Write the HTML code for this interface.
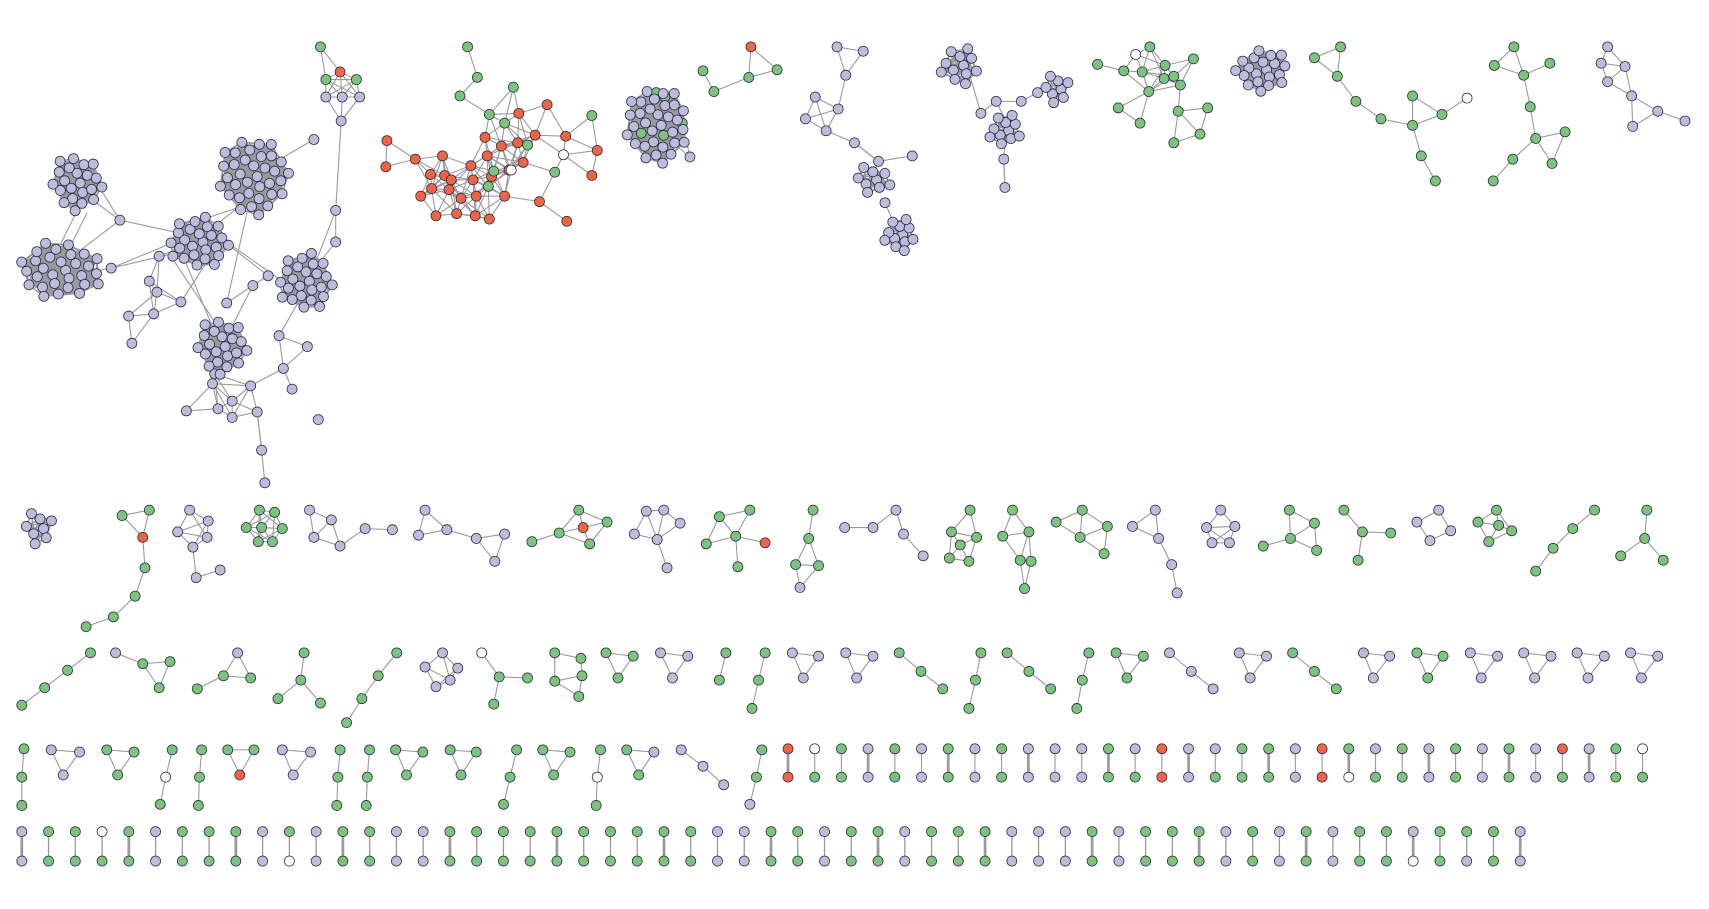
<!DOCTYPE html>
<html><head><meta charset="utf-8"><title>Network components</title>
<style>html,body{margin:0;padding:0;background:#fff}svg{display:block}</style></head>
<body>
<svg id="net" width="1709" height="909" viewBox="0 0 1568 834" preserveAspectRatio="none" xmlns="http://www.w3.org/2000/svg">
<g id="edges"></g>
<g id="nodes"></g>
</svg>
<script>
const components = [
 {s:"G 294 43,R 312 66,G 299 73,G 327 73,L 299 89,L 314 89,L 330 89,L 313 111",t:40},
 {s:"L 110 202,L 102 246,L 146 235,L 137 258,L 144 268,L 166 277,L 208 278,L 232 262,L 246 253,L 118 290,L 141 288,L 121 315,L 288 128,L 308 193,L 308 222,L 256 308,L 282 318,L 268 357,L 292 385,L 240 413,L 243 443,L 195 352,L 213 368,L 236 378,L 213 383,L 200 375,L 171 377,L 230 354,L 260 338,L 197 343",t:36},
 {s:"G 429 43,G 438 71,G 422 88,G 471 80,G 449 105,G 463 113,R 476 104,R 502 96,R 491 124,G 484 133,G 543 106,R 519 125,W 517 142,R 548 138,R 543 161,G 509 158,R 355 129,R 354 153,R 381 146,R 406 143,R 445 126,R 460 134,R 475 131,R 447 143,R 451 162,R 467 156,R 480 149,R 432 152,R 408 161,R 395 160,R 386 180,R 396 173,R 412 174,R 423 182,R 437 180,R 434 165,R 414 165,G 453 157,W 469 156,R 400 198,R 419 196,R 436 198,R 449 201,R 463 180,R 495 185,R 520 203,G 448 171",t:34},
 {s:"G 610 89,G 626 113,G 645 65,G 655 84,G 687 71,R 689 43,G 713 64,G 602 85,L 633 144",t:36},
 {s:"L 768 43,L 792 47,L 776 69,L 748 89,L 769 100,L 739 109,L 758 120,L 784 131,L 806 148,L 837 143,L 812 186",t:34},
 {s:"L 914 93,L 937 93,L 952 85,L 921 146,L 922 172,L 900 104",t:30},
 {s:"G 1007 59,W 1042 50,G 1055 43,G 1031 65,G 1048 66,G 1069 60,G 1077 70,G 1095 54,G 1083 78,G 1054 84,G 1026 99,G 1046 113,G 1081 102,G 1108 99,G 1077 131,G 1101 123,G 1068 72",t:32},
 {s:"G 1206 53,G 1230 43,G 1227 70,G 1244 93,G 1267 109,G 1296 88,G 1296 115,G 1323 105,W 1346 90,G 1304 143,G 1317 166",t:32},
 {s:"G 1371 60,G 1389 43,G 1398 69,G 1422 58,G 1404 98,G 1409 127,G 1436 121,G 1424 150,G 1388 146,G 1370 166",t:32},
 {s:"L 1475 43,L 1491 61,L 1469 58,L 1475 75,L 1497 88,L 1521 102,L 1546 111,L 1498 116",t:30},
 {s:"G 112 473,G 137 468,R 131 493,G 133 521,G 124 547,G 104 566,G 79 575",t:30},
 {s:"L 174 468,L 191 478,L 163 488,L 177 502,L 190 493,L 180 530,L 202 523",t:30},
 {s:"G 238 468,G 252 470,G 259 485,G 250 497,G 237 497,G 226 484,G 240 484",t:30},
 {s:"L 284 468,L 304 477,L 288 493,L 312 501,L 335 485,L 360 486",t:30},
 {s:"L 390 468,L 410 486,L 384 491,L 437 494,L 463 490,L 454 515",t:30},
 {s:"G 488 497,G 513 489,G 531 468,G 557 479,G 541 499,R 535 484",t:30},
 {s:"L 593 469,L 609 468,L 624 480,L 603 495,L 582 490,L 612 521",t:30},
 {s:"G 660 474,G 688 468,G 675 492,G 648 499,R 702 498,G 677 520",t:30},
 {s:"G 746 468,G 742 494,G 730 518,G 751 519,L 734 539",t:28},
 {s:"L 775 484,L 801 484,L 822 468,L 829 490,L 847 510",t:28},
 {s:"G 890 468,G 873 488,G 896 493,G 871 512,G 889 515,G 881 500",t:28},
 {s:"G 929 468,G 944 488,G 920 492,G 946 515,G 936 514,G 940 540",t:28},
 {s:"G 969 479,G 993 468,G 1016 483,G 991 493,G 1013 508",t:28},
 {s:"L 1039 483,L 1060 468,L 1063 494,L 1075 518,L 1080 544",t:28},
 {s:"L 1107 484,L 1120 468,L 1133 483,L 1128 498,L 1112 498",t:28},
 {s:"G 1159 501,G 1183 468,G 1206 480,G 1184 494,G 1208 505",t:28},
 {s:"G 1233 468,G 1250 488,G 1276 489,G 1246 514",t:28},
 {s:"L 1300 479,L 1320 468,L 1331 487,L 1312 496",t:28},
 {s:"G 1356 479,G 1373 468,G 1387 487,G 1366 497,G 1375 482",t:28},
 {s:"G 1409 524,G 1425 503,G 1443 485,G 1463 468",t:28},
 {s:"G 1511 468,G 1509 494,G 1487 510,G 1526 514",t:30},
 {s:"G 20 647,G 41 631,G 62 615,G 83 599",t:28},
 {s:"L 106 599,G 131 609,G 156 607,G 146 631",t:30},
 {s:"G 181 632,G 205 620,G 230 622,L 218 599",t:30},
 {s:"G 279 599,G 276 624,G 255 641,G 294 645",t:30},
 {s:"G 318 663,G 332 641,G 347 620,G 364 599",t:28},
 {s:"L 406 599,L 390 612,L 420 613,L 400 630,L 413 624",t:28},
 {s:"W 442 599,G 458 621,G 484 622,G 453 646",t:28},
 {s:"G 509 599,G 533 604,G 509 625,G 531 639,G 534 620",t:28},
 {s:"G 556 599,G 581 602,G 567 622",t:30},{s:"L 606 599,L 631 602,L 617 622",t:30},
 {s:"G 666 599,G 660 624",t:28},{s:"G 702 599,G 696 624,G 690 650",t:28},
 {s:"L 727 599,L 751 602,L 737 622",t:30},{s:"L 776 599,L 801 602,L 786 622",t:30},
 {s:"G 825 599,G 845 616,G 865 632",t:28},{s:"G 900 599,G 895 624,G 889 650",t:28},
 {s:"G 924 599,G 944 616,G 964 632",t:28},{s:"G 999 599,G 993 624,G 988 650",t:28},
 {s:"G 1024 599,G 1049 602,G 1034 622",t:30},{s:"L 1073 599,L 1093 616,L 1113 632",t:28},
 {s:"L 1137 599,L 1162 602,L 1147 622",t:30},{s:"G 1186 599,G 1206 616,G 1226 632",t:28},
 {s:"L 1251 599,L 1275 602,L 1260 622",t:30},{s:"G 1300 599,G 1324 602,G 1310 622",t:30},
 {s:"L 1349 599,L 1374 602,L 1359 622",t:30},{s:"L 1398 599,L 1423 602,L 1408 622",t:30},
 {s:"L 1447 599,L 1472 602,L 1457 622",t:30},{s:"L 1496 599,L 1521 602,L 1506 622",t:30},
 {s:"G 22 687,G 20 713,G 20 739",t:28},{s:"L 47 688,L 73 690,L 58 711",t:30},
 {s:"G 98 688,G 123 690,G 108 711",t:30},{s:"G 158 688,W 152 713,G 147 738",t:28},
 {s:"G 185 688,G 183 713,G 182 739",t:28},{s:"G 209 688,G 233 688,R 220 711",t:30},
 {s:"L 259 688,L 285 690,L 269 711",t:30},{s:"G 312 688,G 310 713,G 309 739",t:28},
 {s:"G 339 688,G 337 713,G 336 739",t:28},{s:"G 363 688,G 388 690,G 373 711",t:30},
 {s:"G 413 688,G 437 690,G 423 711",t:30},{s:"G 474 688,G 468 713,G 462 738",t:28},
 {s:"G 498 688,G 523 690,G 508 711",t:30},{s:"G 551 688,W 548 713,G 547 739",t:28},
 {s:"G 575 688,L 600 690,G 586 711",t:30},{s:"L 625 688,L 645 703,L 664 720",t:28},
 {s:"G 699 688,G 694 713,L 688 738",t:28}
];
const clusterColors = ["L","L","L","L","L","L","L","L","L","L","L","L","L","L"];
const clusterCenters = [[70,168],[55,248],[232,162],[182,222],[280,258],[203,318],[603,115],[800,165],[825,215],[880,60],[970,82],[922,120],[1158,64],[36,485]];
const clusterRadii = [[24,27],[40,27],[33,37],[30,24],[27,27],[24,27],[30,36],[18,14],[16,16],[20,18],[14,14],[16,16],[26,20],[16,16]];
const clusterCounts = [22,30,35,25,25,22,34,9,12,12,8,11,20,8];
const bridges = [[[110,202],[80,180]],[[110,202],[60,240]],[[110,202],[90,170]],[[102,246],[80,250]],[[102,246],[160,222]],[[102,246],[170,230]],[[110,202],[170,215]],[[146,235],[180,222]],[[288,128],[250,150]],[[308,193],[313,111]],[[308,193],[290,240]],[[308,222],[290,245]],[[246,253],[210,225]],[[256,308],[275,275]],[[232,262],[210,305]],[[166,277],[190,240]],[[208,278],[230,180]],[[200,205],[225,185]],[[190,200],[220,190]],[[205,220],[255,255]],[[160,240],[200,300]],[[170,240],[195,300]],[[195,352],[200,330]],[[213,368],[230,354]],[[240,413],[236,378]],[[70,195],[55,225]],[[80,195],[65,225]],[[633,144],[610,125]],[[602,85],[610,100]],[[784,131],[806,148]],[[806,148],[800,165]],[[812,186],[820,205]],[[900,104],[890,70]],[[914,93],[925,115]],[[952,85],[965,80]],[[922,172],[921,146]],[[921,146],[922,130]]];
const row4PairX0 = 723, row4Top = "RWGLGLGLGLLLGLRLLGGLRGLGLGLGLRLGW", row4Bot = "RGGLGLGLGLLLGGRLGGGLRWGGLGLGLGLGG";
const row5PairX0 = 20, row5Top = "LGGWGLGGGLGLGGLLGGGGGGGGGGLLGGLGGLGGGLLLGLGGGLGLGLGGLGGGL", row5Bot = "LGGGGLGGGLWLGGLLGGGGGGGGGGLLGGLGGLGGGLLLGLGGGLGLGLGGWGLGL";

const fills = {L:"#bdbddb",G:"#7cc47c",R:"#ef6442",W:"#ffffff"};
const E = document.getElementById('edges'), N = document.getElementById('nodes');
const NS = "http://www.w3.org/2000/svg";
function edge(a,b,w){
  const l=document.createElementNS(NS,'line');
  l.setAttribute('x1',a[0]);l.setAttribute('y1',a[1]);l.setAttribute('x2',b[0]);l.setAttribute('y2',b[1]);
  l.setAttribute('stroke','#9a9a9a');l.setAttribute('stroke-width',w||1);
  
  
  E.appendChild(l);
}
function node(p){
  const c=document.createElementNS(NS,'circle');
  c.setAttribute('cx',p[0]);c.setAttribute('cy',p[1]);c.setAttribute('r',4.6);
  c.setAttribute('fill',fills[p[2]]);c.setAttribute('stroke','#2a2a45');c.setAttribute('stroke-width',0.7);
  
  
  N.appendChild(c);
}
function link(list,t,w){
  for(let i=0;i<list.length;i++)for(let j=i+1;j<list.length;j++){
    const d=Math.hypot(list[i][0]-list[j][0],list[i][1]-list[j][1]);
    if(d<t) edge(list[i],list[j],w);
  }
}
const all=[];
components.forEach(c=>{
  const pts=c.s.split(',').map(s=>{const a=s.trim().split(/\s+/);return [+a[1],+a[2],a[0]];});
  link(pts,c.t,1);all.push(...pts);
});
clusterCenters.forEach((cc,k)=>{
  const n=clusterCounts[k],rx=clusterRadii[k][0],ry=clusterRadii[k][1],pts=[];
  for(let i=0;i<n;i++){const r=Math.sqrt((i+0.5)/n),a=i*2.39996;pts.push([cc[0]+rx*r*Math.cos(a),cc[1]+ry*r*Math.sin(a),clusterColors[k]]);}
  if(k===6){pts[3][2]='G';pts[9][2]='G';}
  link(pts,Math.max(rx,ry)*2.2,1.4);all.push(...pts);
});
bridges.forEach(b=>edge(b[0],b[1],1));
for(let i=0;i<row4Top.length;i++){const x=row4PairX0+i*24.5;const a=[x,687,row4Top[i]],b=[x,713,row4Bot[i]];edge(a,b,i%3?1:2.5);all.push(a,b);}
for(let i=0;i<row5Top.length;i++){const x=row5PairX0+i*24.55;const a=[x,763,row5Top[i]],b=[x,790,row5Bot[i]];edge(a,b,i%4?1.2:2.5);all.push(a,b);}
all.forEach(node);
</script>
</body></html>
